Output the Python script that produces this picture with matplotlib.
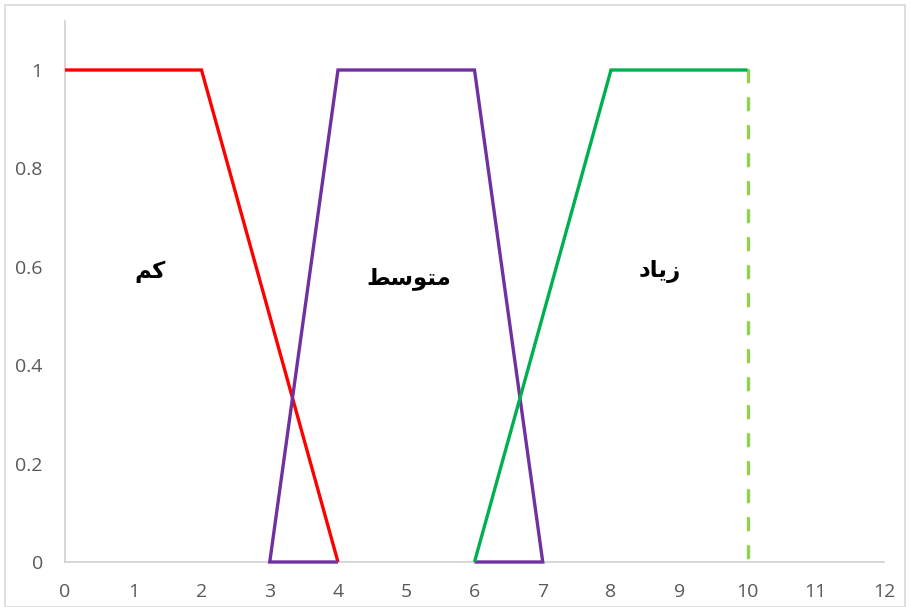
import matplotlib
matplotlib.use("Agg")
import matplotlib.pyplot as plt
from matplotlib.patches import Rectangle

# Data
low_x = [0, 2, 4]
low_y = [1, 1, 0]
mid_x = [4, 3, 4, 6, 7, 6]
mid_y = [0, 0, 1, 1, 0, 0]
high_x = [6, 8, 10]
high_y = [0, 1, 1]
edge_x = [10, 10]
edge_y = [1, 0]

# Labels (visual-order Arabic presentation forms)
labels = ["\uFEE2\uFEDB",                      # کم
          "\uFEC2\uFEB3\uFEEE\uFE98\uFEE3",    # متوسط
          "\uFEA9\uFE8E\uFEF3\uFEAF"]          # زیاد
label_x = [1.25, 5.03, 8.72]
label_y = [0.59, 0.577, 0.59]

xticks = list(range(0, 13))
yticks = [0, 0.2, 0.4, 0.6, 0.8, 1]
ytick_labels = ["0", "0.2", "0.4", "0.6", "0.8", "1"]

fig = plt.figure(figsize=(9.1, 6.07), dpi=100)
ax = fig.add_axes([65/910, 1-562/607, (884-65)/910, (562-20.8)/607])

lw = 2.4
common = dict(lw=lw, solid_capstyle="butt", solid_joinstyle="miter", clip_on=False)
ax.plot(low_x, low_y, color="#FF0000", zorder=3, **common)
ax.plot(mid_x, mid_y, color="#7030A0", zorder=3, **common)
ax.plot(high_x, high_y, color="#00B050", zorder=3, **common)
ax.plot(edge_x, edge_y, color="#92D050", lw=lw, ls=(0, (3.4, 5.0)),
        dash_capstyle="round", clip_on=False, zorder=2)

for t, x, y in zip(labels, label_x, label_y):
    ax.text(x, y, t, ha="center", va="center", fontsize=16.5, fontweight="bold",
            family=["DejaVu Sans"], color="black")

ax.set_xlim(0, 12)
ax.set_ylim(0, 1.1)
ax.set_xticks(xticks)
ax.set_xticklabels([str(v) for v in xticks])
ax.set_yticks(yticks)
ax.set_yticklabels(ytick_labels)
ax.tick_params(length=0, labelsize=14, labelcolor="#595959", colors="#595959")
ax.tick_params(axis="x", pad=15)
ax.tick_params(axis="y", pad=16)
for lab in ax.get_xticklabels() + ax.get_yticklabels():
    lab.set_family(["Open Sans", "DejaVu Sans"])

for s in ["top", "right"]:
    ax.spines[s].set_visible(False)
for s in ["left", "bottom"]:
    ax.spines[s].set_color("#D0D0D0")
    ax.spines[s].set_linewidth(1.2)
    ax.spines[s].set_zorder(1)

fig.patches.append(Rectangle((5/910, 0), 1-10/910, 1-5/607, transform=fig.transFigure,
                             fill=False, edgecolor="#D9D9D9", lw=1.2))

fig.savefig("out.png", dpi=100)
